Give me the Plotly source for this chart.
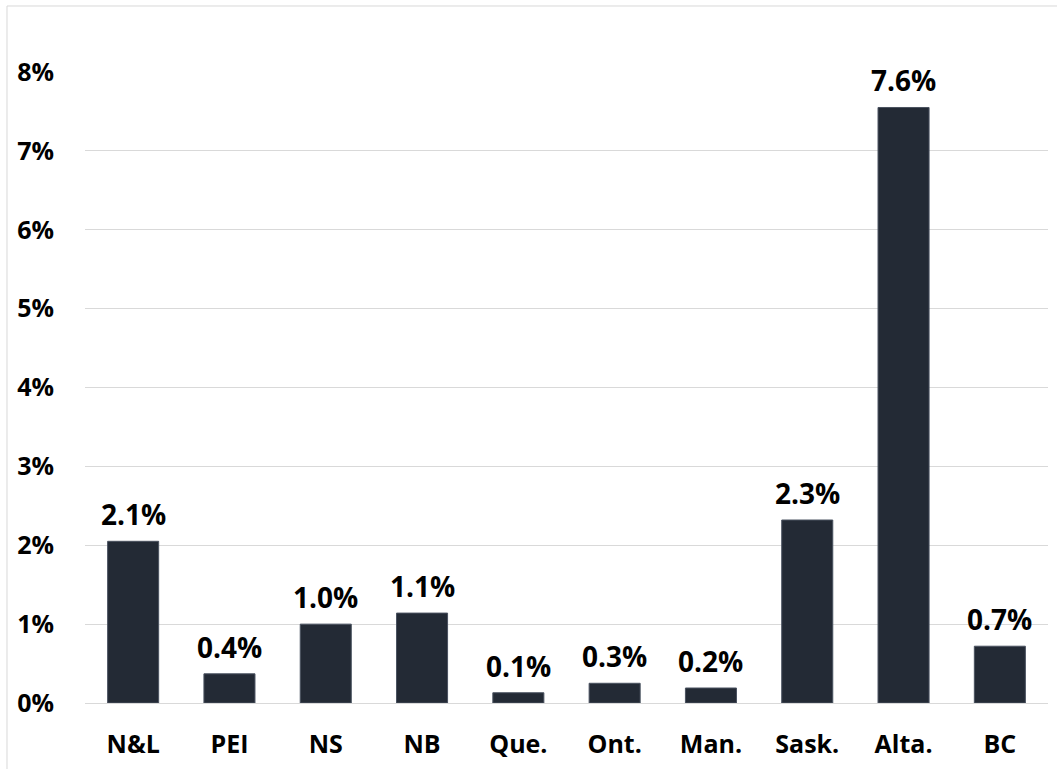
import plotly.graph_objects as go

provinces = ["N&L", "PEI", "NS", "NB", "Que.", "Ont.", "Man.", "Sask.", "Alta.", "BC"]
growth = [2.05, 0.37, 1.0, 1.14, 0.13, 0.25, 0.19, 2.32, 7.55, 0.72]
labels = ["2.1%", "0.4%", "1.0%", "1.1%", "0.1%", "0.3%", "0.2%", "2.3%", "7.6%", "0.7%"]
y_ticks = [0, 1, 2, 3, 4, 5, 6, 7, 8]
y_tick_text = ["0%", "1%", "2%", "3%", "4%", "5%", "6%", "7%", "8%"]

font_family = "Open Sans, sans-serif"

fig = go.Figure(
    go.Bar(
        x=provinces,
        y=growth,
        marker=dict(color="#232a35", line=dict(color="#4a5260", width=1)),
        width=0.53,
        hoverinfo="skip",
    )
)

# value labels above the bars
for prov, val, lab in zip(provinces, growth, labels):
    fig.add_annotation(
        x=prov,
        y=val,
        text=lab,
        showarrow=False,
        yanchor="bottom",
        yshift=6,
        font=dict(family=font_family, size=28, color="#000000", weight="bold"),
    )

fig.update_layout(
    width=1057,
    height=769,
    paper_bgcolor="white",
    plot_bgcolor="white",
    showlegend=False,
    margin=dict(l=85, r=9, t=72, b=66),
    font=dict(family=font_family, size=25, color="#000000", weight="bold"),
    xaxis=dict(
        showgrid=False,
        showline=False,
        ticks="",
        ticklabelstandoff=24,
        tickfont=dict(family=font_family, size=25, weight="bold"),
    ),
    yaxis=dict(
        range=[0, 8],
        tickvals=y_ticks,
        ticktext=y_tick_text,
        showgrid=True,
        gridcolor="#d9d9d9",
        gridwidth=1,
        zeroline=True,
        zerolinecolor="#d9d9d9",
        zerolinewidth=1,
        showline=False,
        ticks="",
        ticklabelstandoff=30,
        tickfont=dict(family=font_family, size=25, weight="bold"),
    ),
    shapes=[
        dict(
            type="rect",
            xref="paper",
            yref="paper",
            x0=-0.081,
            x1=1.2,
            y0=-0.2,
            y1=1.1046,
            line=dict(color="#d9d9d9", width=1),
            fillcolor="rgba(0,0,0,0)",
            layer="below",
        )
    ],
)

# drop the default 8px body margin so the figure sits at the page corner
fig.write_html(
    "out.html",
    config={"displayModeBar": False},
    post_script="document.body.style.margin='0';",
)
